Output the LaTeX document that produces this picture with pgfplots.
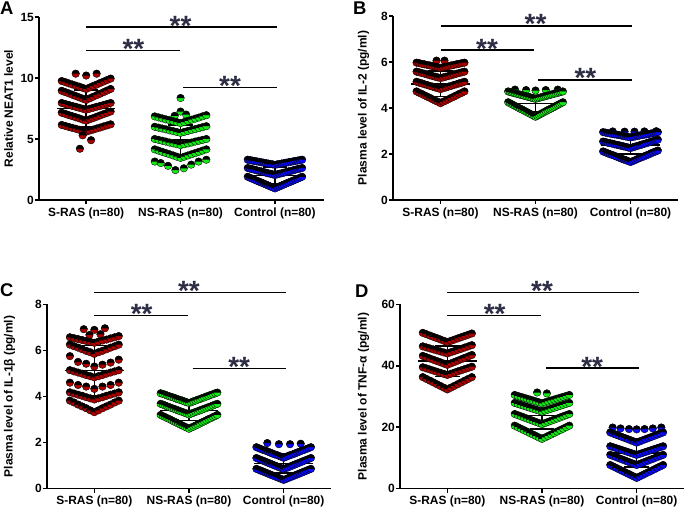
\documentclass[border=0pt]{standalone}
\usepackage{pgfplots}
\pgfplotsset{compat=1.18}
\usepackage{fontspec}
\setmainfont{Liberation Sans}
\usetikzlibrary{plotmarks}

\definecolor{sred}{RGB}{170,0,0}
\definecolor{sgreen}{RGB}{20,235,20}
\definecolor{sblue}{RGB}{10,10,245}
\definecolor{starc}{RGB}{45,45,70}

% circle: lower half in the fill colour, upper half black
\pgfdeclareplotmark{bicircle}{%
  \pgfpathcircle{\pgfpointorigin}{\pgfplotmarksize}%
  \pgfusepathqfill
  \begin{pgfscope}%
    \pgfsetfillcolor{black}%
    \pgfpathmoveto{\pgfqpoint{\pgfplotmarksize}{0pt}}%
    \pgfpatharc{0}{180}{\pgfplotmarksize}%
    \pgfpathclose
    \pgfusepathqfill
  \end{pgfscope}%
  \pgfpathcircle{\pgfpointorigin}{\pgfplotmarksize}%
  \pgfusepathqstroke
}

\newcommand{\lbl}{\fontsize{12}{14}\selectfont\bfseries}
\newcommand{\sig}[4]{% x1, x2, y, xmid
  \draw[line width=1.6bp] (axis cs:#1,#3) -- (axis cs:#2,#3);
  \node[anchor=base, yshift=-8bp, inner sep=0pt, text=starc,
        font=\fontsize{28}{30}\selectfont\bfseries] at (axis cs:#4,#3) {**};}

\pgfplotsset{
  panel/.style={
    scale only axis,
    axis lines=left,
    axis line style={line width=1.5bp,-},
    tick align=outside,
    major tick length=4bp,
    tick style={line width=1.5bp,black},
    xtick={0,1,2},
    xticklabels={S-RAS (n=80),NS-RAS (n=80),Control (n=80)},
    xmin=-0.5, xmax=2.5, ymin=0,
    enlargelimits=false,
    clip=false,
    ticklabel style={font=\lbl},
    yticklabel style={inner xsep=1bp},
    label style={font=\lbl},
    /pgf/number format/assume math mode=true,
  },
  pts/.style={only marks, mark=bicircle, mark size=3.8bp, black,
    mark options={draw=black, line width=0.35bp, fill=#1}},
  sd/.style={black, line width=1.5bp, no marks, unbounded coords=jump},
}

\begin{document}
\begin{tikzpicture}
\useasboundingbox (0,0) rectangle (685bp,509bp);

\node[anchor=north west, inner sep=0pt, font=\fontsize{18.5}{20}\selectfont\bfseries] at (0bp,507bp) {A};
\node[anchor=north west, inner sep=0pt, font=\fontsize{18.5}{20}\selectfont\bfseries] at (353bp,507bp) {B};
\node[anchor=north west, inner sep=0pt, font=\fontsize{18.5}{20}\selectfont\bfseries] at (0bp,226bp) {C};
\node[anchor=north west, inner sep=0pt, font=\fontsize{18.5}{20}\selectfont\bfseries] at (355bp,224bp) {D};

% ---------------- A ----------------
\begin{axis}[panel, at={(39bp,309bp)}, anchor=south west,
  width=285bp, height=183bp, xmax=2.52, ymax=15, ytick={0,5,10,15},
  ylabel={Relative NEAT1 level},
  ylabel style={at={(axis description cs:-0.107,0.5)}, anchor=center}]
\addplot[pts=sred] table[row sep=\\, x expr=\thisrow{k}*0.037, y=y] {
k y\\
-3 10.35\\ 0 10.2\\ 3 10.35\\
-7 9.75\\ -6 9.66\\ -5 9.56\\ -4 9.47\\ -3 9.38\\ -2 9.29\\ -1 9.19\\ 0 9.10\\ 1 9.22\\ 2 9.34\\ 3 9.46\\ 4 9.59\\ 5 9.71\\ 6 9.83\\ 7 9.95\\
-7 8.95\\ -6 8.84\\ -5 8.74\\ -4 8.63\\ -3 8.52\\ -2 8.41\\ -1 8.31\\ 0 8.20\\ 1 8.33\\ 2 8.46\\ 3 8.59\\ 4 8.71\\ 5 8.84\\ 6 8.97\\ 7 9.10\\
-7 7.95\\ -6 7.87\\ -5 7.79\\ -4 7.71\\ -3 7.64\\ -2 7.56\\ -1 7.48\\ 0 7.40\\ 1 7.48\\ 2 7.56\\ 3 7.64\\ 4 7.71\\ 5 7.79\\ 6 7.87\\ 7 7.95\\
-7 7.15\\ -6 7.06\\ -5 6.96\\ -4 6.87\\ -3 6.78\\ -2 6.69\\ -1 6.59\\ 0 6.50\\ 1 6.61\\ 2 6.71\\ 3 6.82\\ 4 6.93\\ 5 7.04\\ 6 7.14\\ 7 7.25\\
-7 6.15\\ -6 6.07\\ -5 5.99\\ -4 5.91\\ -3 5.84\\ -2 5.76\\ -1 5.68\\ 0 5.60\\ 1 5.69\\ 2 5.77\\ 3 5.86\\ 4 5.94\\ 5 6.03\\ 6 6.11\\ 7 6.20\\
-1 5.3\\ 1.4 4.9\\ -1.8 4.2\\
};
\addplot[pts=sgreen] table[row sep=\\, x expr=\thisrow{k}*0.039+1, y=y] {
k y\\
0 8.36\\ -1.6 6.9\\ 0 7.25\\ 1.5 7.0\\
-7 6.85\\ -6 6.77\\ -5 6.69\\ -4 6.61\\ -3 6.54\\ -2 6.46\\ -1 6.38\\ 0 6.30\\ 1 6.39\\ 2 6.49\\ 3 6.58\\ 4 6.67\\ 5 6.76\\ 6 6.86\\ 7 6.95\\
-7 6.00\\ -6 5.93\\ -5 5.86\\ -4 5.79\\ -3 5.71\\ -2 5.64\\ -1 5.57\\ 0 5.50\\ 1 5.58\\ 2 5.66\\ 3 5.74\\ 4 5.81\\ 5 5.89\\ 6 5.97\\ 7 6.05\\
-7 5.00\\ -6 4.93\\ -5 4.86\\ -4 4.79\\ -3 4.71\\ -2 4.64\\ -1 4.57\\ 0 4.50\\ 1 4.57\\ 2 4.64\\ 3 4.71\\ 4 4.79\\ 5 4.86\\ 6 4.93\\ 7 5.00\\
-7 4.15\\ -6 4.05\\ -5 3.95\\ -4 3.85\\ -3 3.75\\ -2 3.65\\ -1 3.55\\ 0 3.45\\ 1 3.55\\ 2 3.65\\ 3 3.75\\ 4 3.85\\ 5 3.95\\ 6 4.05\\ 7 4.15\\
-7 3.15\\ -5.4 3.03\\ -3.4 2.8\\ -1.4 2.45\\ 0.9 2.6\\ 2.9 2.9\\ 4.9 3.15\\ 7 3.3\\
};
\addplot[pts=sblue] table[row sep=\\, x expr=\thisrow{k}*0.024+2, y=y] {
k y\\
-12 3.30\\ -11 3.27\\ -10 3.23\\ -9 3.20\\ -8 3.16\\ -7 3.13\\ -6 3.09\\ -5 3.06\\ -4 3.02\\ -3 2.99\\ -2 2.95\\ -1 2.92\\ 0 2.88\\ 1 2.92\\ 2 2.95\\ 3 2.99\\ 4 3.02\\ 5 3.06\\ 6 3.09\\ 7 3.13\\ 8 3.16\\ 9 3.20\\ 10 3.23\\ 11 3.27\\ 12 3.30\\
-12 2.62\\ -11 2.57\\ -10 2.53\\ -9 2.48\\ -8 2.43\\ -7 2.38\\ -6 2.34\\ -5 2.29\\ -4 2.24\\ -3 2.19\\ -2 2.15\\ -1 2.10\\ 0 2.05\\ 1 2.10\\ 2 2.15\\ 3 2.19\\ 4 2.24\\ 5 2.29\\ 6 2.34\\ 7 2.38\\ 8 2.43\\ 9 2.48\\ 10 2.53\\ 11 2.57\\ 12 2.62\\
-12 1.90\\ -11 1.82\\ -10 1.74\\ -9 1.66\\ -8 1.58\\ -7 1.50\\ -6 1.43\\ -5 1.35\\ -4 1.27\\ -3 1.19\\ -2 1.11\\ -1 1.03\\ 0 0.95\\ 1 1.03\\ 2 1.11\\ 3 1.19\\ 4 1.27\\ 5 1.35\\ 6 1.43\\ 7 1.50\\ 8 1.58\\ 9 1.66\\ 10 1.74\\ 11 1.82\\ 12 1.90\\
};
\addplot[sd] table[row sep=\\] {
x y\\
-0.31 7.5\\ 0.31 7.5\\ nan nan\\ 0 6.0\\ 0 9.0\\ nan nan\\ -0.13 6.0\\ 0.13 6.0\\ nan nan\\ -0.13 9.0\\ 0.13 9.0\\ nan nan\\
0.69 4.9\\ 1.31 4.9\\ nan nan\\ 1 3.65\\ 1 6.15\\ nan nan\\ 0.87 3.65\\ 1.13 3.65\\ nan nan\\ 0.87 6.15\\ 1.13 6.15\\ nan nan\\
1.69 2.0\\ 2.31 2.0\\ nan nan\\ 2 1.3\\ 2 2.7\\ nan nan\\ 1.87 1.3\\ 2.13 1.3\\ nan nan\\ 1.87 2.7\\ 2.13 2.7\\
};
\sig{0}{2.02}{14.18}{1.0}
\sig{0}{0.99}{12.24}{0.5}
\sig{1.03}{2.02}{9.23}{1.525}
\end{axis}

% ---------------- B ----------------
\begin{axis}[panel, at={(393bp,309bp)}, anchor=south west,
  width=285bp, height=184bp, ymax=8, ytick={0,2,4,6,8},
  ylabel={Plasma level of IL-2 (pg/ml)},
  ylabel style={at={(axis description cs:-0.1035,0.5)}, anchor=center}]
\addplot[pts=sred] table[row sep=\\, x expr=\thisrow{k}*0.028, y=y] {
k y\\
-1.5 6.06\\ 1.5 6.06\\
-9 5.97\\ -8 5.95\\ -7 5.92\\ -6 5.90\\ -5 5.87\\ -4 5.85\\ -3 5.82\\ -2 5.80\\ -1 5.77\\ 0 5.75\\ 1 5.77\\ 2 5.80\\ 3 5.82\\ 4 5.85\\ 5 5.87\\ 6 5.90\\ 7 5.92\\ 8 5.95\\ 9 5.97\\
-9 5.58\\ -8 5.55\\ -7 5.52\\ -6 5.49\\ -5 5.46\\ -4 5.42\\ -3 5.39\\ -2 5.36\\ -1 5.33\\ 0 5.30\\ 1 5.33\\ 2 5.36\\ 3 5.39\\ 4 5.42\\ 5 5.46\\ 6 5.49\\ 7 5.52\\ 8 5.55\\ 9 5.58\\
-9 5.14\\ -8 5.10\\ -7 5.07\\ -6 5.03\\ -5 5.00\\ -4 4.96\\ -3 4.93\\ -2 4.89\\ -1 4.86\\ 0 4.82\\ 1 4.86\\ 2 4.89\\ 3 4.93\\ 4 4.96\\ 5 5.00\\ 6 5.03\\ 7 5.07\\ 8 5.10\\ 9 5.14\\
-9 4.72\\ -8 4.66\\ -7 4.61\\ -6 4.55\\ -5 4.49\\ -4 4.44\\ -3 4.38\\ -2 4.32\\ -1 4.27\\ 0 4.21\\ 1 4.27\\ 2 4.32\\ 3 4.38\\ 4 4.44\\ 5 4.49\\ 6 4.55\\ 7 4.61\\ 8 4.66\\ 9 4.72\\
};
\addplot[pts=sgreen] table[row sep=\\, x expr=\thisrow{k}*0.018+1, y=y] {
k y\\
-12 4.8\\ -5.5 4.78\\ 0 4.76\\ 6 4.78\\ 13 4.8\\
-16 4.72\\ -15 4.70\\ -14 4.68\\ -13 4.66\\ -12 4.64\\ -11 4.62\\ -10 4.60\\ -9 4.58\\ -8 4.56\\ -7 4.54\\ -6 4.52\\ -5 4.50\\ -4 4.48\\ -3 4.46\\ -2 4.44\\ -1 4.42\\ 0 4.40\\
1 4.42\\ 2 4.44\\ 3 4.46\\ 4 4.48\\ 5 4.50\\ 6 4.52\\ 7 4.54\\ 8 4.56\\ 9 4.58\\ 10 4.60\\ 11 4.62\\ 12 4.64\\ 13 4.66\\ 14 4.68\\ 15 4.70\\ 16 4.72\\
-16 4.25\\ -15 4.21\\ -14 4.17\\ -13 4.13\\ -12 4.09\\ -11 4.05\\ -10 4.01\\ -9 3.97\\ -8 3.94\\ -7 3.90\\ -6 3.86\\ -5 3.82\\ -4 3.78\\ -3 3.74\\ -2 3.70\\ -1 3.66\\ 0 3.62\\
1 3.66\\ 2 3.70\\ 3 3.74\\ 4 3.78\\ 5 3.82\\ 6 3.86\\ 7 3.90\\ 8 3.94\\ 9 3.97\\ 10 4.01\\ 11 4.05\\ 12 4.09\\ 13 4.13\\ 14 4.17\\ 15 4.21\\ 16 4.25\\
};
\addplot[pts=sblue] table[row sep=\\, x expr=\thisrow{k}*0.024+2, y=y] {
k y\\
-7.8 2.98\\ -2.6 2.97\\ 1.75 2.97\\ 6.1 2.98\\ 11.3 2.99\\
-12 2.95\\ -11 2.93\\ -10 2.91\\ -9 2.89\\ -8 2.87\\ -7 2.85\\ -6 2.84\\ -5 2.82\\ -4 2.80\\ -3 2.78\\ -2 2.76\\ -1 2.74\\ 0 2.72\\ 1 2.74\\ 2 2.76\\ 3 2.78\\ 4 2.80\\ 5 2.82\\ 6 2.84\\ 7 2.85\\ 8 2.87\\ 9 2.89\\ 10 2.91\\ 11 2.93\\ 12 2.95\\
-12 2.54\\ -11 2.52\\ -10 2.49\\ -9 2.47\\ -8 2.45\\ -7 2.42\\ -6 2.40\\ -5 2.38\\ -4 2.35\\ -3 2.33\\ -2 2.31\\ -1 2.28\\ 0 2.26\\ 1 2.29\\ 2 2.32\\ 3 2.35\\ 4 2.38\\ 5 2.41\\ 6 2.44\\ 7 2.47\\ 8 2.50\\ 9 2.53\\ 10 2.56\\ 11 2.59\\ 12 2.62\\
-12 2.11\\ -11 2.07\\ -10 2.03\\ -9 1.99\\ -8 1.96\\ -7 1.92\\ -6 1.88\\ -5 1.84\\ -4 1.80\\ -3 1.76\\ -2 1.73\\ -1 1.69\\ 0 1.65\\ 1 1.69\\ 2 1.73\\ 3 1.78\\ 4 1.82\\ 5 1.86\\ 6 1.90\\ 7 1.94\\ 8 1.98\\ 9 2.03\\ 10 2.07\\ 11 2.11\\ 12 2.15\\
};
\addplot[sd] table[row sep=\\] {
x y\\
-0.31 5.05\\ 0.31 5.05\\ nan nan\\ 0 4.5\\ 0 5.6\\ nan nan\\ -0.13 4.5\\ 0.13 4.5\\ nan nan\\ -0.13 5.6\\ 0.13 5.6\\ nan nan\\
0.69 4.2\\ 1.31 4.2\\ nan nan\\ 1 3.85\\ 1 4.55\\ nan nan\\ 0.87 3.85\\ 1.13 3.85\\ nan nan\\ 0.87 4.55\\ 1.13 4.55\\ nan nan\\
1.69 2.4\\ 2.31 2.4\\ nan nan\\ 2 2.0\\ 2 2.8\\ nan nan\\ 1.87 2.0\\ 2.13 2.0\\ nan nan\\ 1.87 2.8\\ 2.13 2.8\\
};
\sig{0}{2.02}{7.57}{1.0}
\sig{0}{0.98}{6.52}{0.49}
\sig{1.03}{2.02}{5.22}{1.525}
\end{axis}

% ---------------- C ----------------
\begin{axis}[panel, at={(47bp,20.3bp)}, anchor=south west,
  width=284bp, height=184.4bp, ymax=8, ytick={0,2,4,6,8},
  ylabel={Plasma level of IL-1β (pg/ml)},
  ylabel style={at={(axis description cs:-0.132,0.5)}, anchor=center}]
\addplot[pts=sred] table[row sep=\\, x expr=\thisrow{k}*0.043, y=y] {
k y\\
-2.6 6.92\\ 0 6.89\\ 2.6 6.96\\ -1.2 6.67\\ 1.5 6.7\\
-6 6.57\\ -5 6.53\\ -4 6.49\\ -3 6.45\\ -2 6.41\\ -1 6.37\\ 0 6.33\\ 1 6.38\\ 2 6.43\\ 3 6.47\\ 4 6.52\\ 5 6.57\\ 6 6.62\\
-6 6.25\\ -5 6.18\\ -4 6.12\\ -3 6.05\\ -2 5.98\\ -1 5.92\\ 0 5.85\\ 1 5.92\\ 2 5.98\\ 3 6.05\\ 4 6.12\\ 5 6.18\\ 6 6.25\\
-6 5.75\\ -4 5.5\\ -2 5.42\\ 0 5.3\\ 2 5.38\\ 4 5.47\\ 6 5.6\\
-6 5.14\\ -5 5.09\\ -4 5.04\\ -3 4.99\\ -2 4.93\\ -1 4.88\\ 0 4.83\\ 1 4.88\\ 2 4.93\\ 3 4.99\\ 4 5.04\\ 5 5.09\\ 6 5.14\\
-6 4.6\\ -4 4.5\\ -2 4.43\\ 0 4.33\\ 2 4.43\\ 4 4.5\\ 6 4.6\\
-6 4.18\\ -5 4.13\\ -4 4.08\\ -3 4.03\\ -2 3.97\\ -1 3.92\\ 0 3.87\\ 1 3.92\\ 2 3.97\\ 3 4.03\\ 4 4.08\\ 5 4.13\\ 6 4.18\\
-6 3.82\\ -5 3.74\\ -4 3.65\\ -3 3.57\\ -2 3.49\\ -1 3.40\\ 0 3.32\\ 1 3.40\\ 2 3.49\\ 3 3.57\\ 4 3.65\\ 5 3.74\\ 6 3.82\\
};
\addplot[pts=sgreen] table[row sep=\\, x expr=\thisrow{k}*0.023+1, y=y] {
k y\\
-13 4.14\\ -12 4.11\\ -11 4.08\\ -10 4.04\\ -9 4.01\\ -8 3.98\\ -7 3.95\\ -6 3.91\\ -5 3.88\\ -4 3.85\\ -3 3.82\\ -2 3.78\\ -1 3.75\\ 0 3.72\\
1 3.75\\ 2 3.79\\ 3 3.82\\ 4 3.86\\ 5 3.89\\ 6 3.93\\ 7 3.96\\ 8 4.00\\ 9 4.03\\ 10 4.07\\ 11 4.10\\ 12 4.14\\ 13 4.17\\
-13 3.68\\ -12 3.65\\ -11 3.61\\ -10 3.57\\ -9 3.54\\ -8 3.50\\ -7 3.47\\ -6 3.43\\ -5 3.40\\ -4 3.36\\ -3 3.33\\ -2 3.29\\ -1 3.26\\ 0 3.22\\
1 3.26\\ 2 3.29\\ 3 3.33\\ 4 3.36\\ 5 3.40\\ 6 3.43\\ 7 3.47\\ 8 3.50\\ 9 3.54\\ 10 3.57\\ 11 3.61\\ 12 3.65\\ 13 3.68\\
-13 3.20\\ -12 3.15\\ -11 3.11\\ -10 3.06\\ -9 3.02\\ -8 2.97\\ -7 2.92\\ -6 2.88\\ -5 2.83\\ -4 2.78\\ -3 2.74\\ -2 2.69\\ -1 2.65\\ 0 2.60\\
1 2.65\\ 2 2.69\\ 3 2.74\\ 4 2.78\\ 5 2.83\\ 6 2.88\\ 7 2.92\\ 8 2.97\\ 9 3.02\\ 10 3.06\\ 11 3.11\\ 12 3.15\\ 13 3.20\\
};
\addplot[pts=sblue] table[row sep=\\, x expr=\thisrow{k}*0.024+2, y=y] {
k y\\
-7.2 1.98\\ -2.1 1.93\\ 2.8 1.93\\ 7.5 1.95\\
-12 1.80\\ -11 1.76\\ -10 1.72\\ -9 1.68\\ -8 1.65\\ -7 1.61\\ -6 1.57\\ -5 1.53\\ -4 1.49\\ -3 1.46\\ -2 1.42\\ -1 1.38\\ 0 1.34\\ 1 1.38\\ 2 1.42\\ 3 1.46\\ 4 1.49\\ 5 1.53\\ 6 1.57\\ 7 1.61\\ 8 1.65\\ 9 1.68\\ 10 1.72\\ 11 1.76\\ 12 1.80\\
-12 1.33\\ -11 1.29\\ -10 1.25\\ -9 1.21\\ -8 1.17\\ -7 1.13\\ -6 1.09\\ -5 1.05\\ -4 1.01\\ -3 0.97\\ -2 0.93\\ -1 0.89\\ 0 0.85\\ 1 0.89\\ 2 0.93\\ 3 0.97\\ 4 1.01\\ 5 1.05\\ 6 1.09\\ 7 1.13\\ 8 1.17\\ 9 1.21\\ 10 1.25\\ 11 1.29\\ 12 1.33\\
-12 0.86\\ -11 0.82\\ -10 0.78\\ -9 0.74\\ -8 0.70\\ -7 0.66\\ -6 0.62\\ -5 0.58\\ -4 0.54\\ -3 0.50\\ -2 0.46\\ -1 0.42\\ 0 0.38\\ 1 0.42\\ 2 0.46\\ 3 0.50\\ 4 0.54\\ 5 0.58\\ 6 0.62\\ 7 0.66\\ 8 0.70\\ 9 0.74\\ 10 0.78\\ 11 0.82\\ 12 0.86\\
};
\addplot[sd] table[row sep=\\] {
x y\\
-0.31 5.12\\ 0.31 5.12\\ nan nan\\ 0 4.02\\ 0 6.22\\ nan nan\\ -0.13 4.02\\ 0.13 4.02\\ nan nan\\ -0.13 6.22\\ 0.13 6.22\\ nan nan\\
0.69 3.4\\ 1.31 3.4\\ nan nan\\ 1 2.95\\ 1 3.85\\ nan nan\\ 0.87 2.95\\ 1.13 2.95\\ nan nan\\ 0.87 3.85\\ 1.13 3.85\\ nan nan\\
1.69 1.1\\ 2.31 1.1\\ nan nan\\ 2 0.68\\ 2 1.52\\ nan nan\\ 1.87 0.68\\ 2.13 0.68\\ nan nan\\ 1.87 1.52\\ 2.13 1.52\\
};
\sig{0}{2.02}{8.52}{1.0}
\sig{0}{0.99}{7.51}{0.5}
\sig{1.04}{2.02}{5.22}{1.53}
\end{axis}

% ---------------- D ----------------
\begin{axis}[panel, at={(400bp,20.3bp)}, anchor=south west,
  width=284bp, height=184.4bp, ymax=60, ytick={0,20,40,60},
  ylabel={Plasma level of TNF-α (pg/ml)},
  ylabel style={at={(axis description cs:-0.1285,0.5)}, anchor=center}]
\addplot[pts=sred] table[row sep=\\, x expr=\thisrow{k}*0.037, y=y] {
k y\\
-7 50.7\\ -6 50.27\\ -5 49.84\\ -4 49.41\\ -3 48.99\\ -2 48.56\\ -1 48.13\\ 0 47.7\\ 1 48.1\\ 2 48.5\\ 3 48.9\\ 4 49.3\\ 5 49.7\\ 6 50.1\\ 7 50.5\\
-7 46.3\\ -6 45.97\\ -5 45.64\\ -4 45.31\\ -3 44.99\\ -2 44.66\\ -1 44.33\\ 0 44.0\\ 1 44.39\\ 2 44.77\\ 3 45.16\\ 4 45.54\\ 5 45.93\\ 6 46.31\\ 7 46.7\\
-7 43.2\\ -6 42.79\\ -5 42.37\\ -4 41.96\\ -3 41.54\\ -2 41.13\\ -1 40.71\\ 0 40.3\\ 1 40.76\\ 2 41.21\\ 3 41.67\\ 4 42.13\\ 5 42.59\\ 6 43.04\\ 7 43.5\\
-7 39.5\\ -6 39.14\\ -5 38.79\\ -4 38.43\\ -3 38.07\\ -2 37.71\\ -1 37.36\\ 0 37.0\\ 1 37.39\\ 2 37.77\\ 3 38.16\\ 4 38.54\\ 5 38.93\\ 6 39.31\\ 7 39.7\\
-7 36.3\\ -6 35.73\\ -5 35.16\\ -4 34.59\\ -3 34.01\\ -2 33.44\\ -1 32.87\\ 0 32.3\\ 1 32.87\\ 2 33.44\\ 3 34.01\\ 4 34.59\\ 5 35.16\\ 6 35.73\\ 7 36.3\\
};
\addplot[pts=sgreen] table[row sep=\\, x expr=\thisrow{k}*0.032+1, y=y] {
k y\\
-1.6 31.3\\ 1.6 31.0\\
-9 30.5\\ -8 30.2\\ -7 29.9\\ -6 29.6\\ -5 29.3\\ -4 29.0\\ -3 28.7\\ -2 28.4\\ -1 28.1\\ 0 27.8\\ 1 28.1\\ 2 28.4\\ 3 28.7\\ 4 29.0\\ 5 29.3\\ 6 29.6\\ 7 29.9\\ 8 30.2\\ 9 30.5\\
-9 27.9\\ -8 27.59\\ -7 27.28\\ -6 26.97\\ -5 26.66\\ -4 26.34\\ -3 26.03\\ -2 25.72\\ -1 25.41\\ 0 25.1\\ 1 25.41\\ 2 25.72\\ 3 26.03\\ 4 26.34\\ 5 26.66\\ 6 26.97\\ 7 27.28\\ 8 27.59\\ 9 27.9\\
-9 24.3\\ -8 23.93\\ -7 23.57\\ -6 23.2\\ -5 22.83\\ -4 22.47\\ -3 22.1\\ -2 21.73\\ -1 21.37\\ 0 21.0\\ 1 21.37\\ 2 21.73\\ 3 22.1\\ 4 22.47\\ 5 22.83\\ 6 23.2\\ 7 23.57\\ 8 23.93\\ 9 24.3\\
-9 20.5\\ -8 20.02\\ -7 19.54\\ -6 19.07\\ -5 18.59\\ -4 18.11\\ -3 17.63\\ -2 17.16\\ -1 16.68\\ 0 16.2\\ 1 16.68\\ 2 17.16\\ 3 17.63\\ 4 18.11\\ 5 18.59\\ 6 19.07\\ 7 19.54\\ 8 20.02\\ 9 20.5\\
};
\addplot[pts=sblue] table[row sep=\\, x expr=\thisrow{k}*0.031+2, y=y] {
k y\\
-8.2 19.9\\ -5.5 19.6\\ -2.6 19.4\\ 0 19.3\\ 2.7 19.4\\ 5.5 19.6\\ 8.4 19.9\\
-9 18.3\\ -8 17.93\\ -7 17.57\\ -6 17.2\\ -5 16.83\\ -4 16.47\\ -3 16.1\\ -2 15.73\\ -1 15.37\\ 0 15.0\\ 1 15.37\\ 2 15.73\\ 3 16.1\\ 4 16.47\\ 5 16.83\\ 6 17.2\\ 7 17.57\\ 8 17.93\\ 9 18.3\\
-9 13.8\\ -8 13.49\\ -7 13.18\\ -6 12.87\\ -5 12.56\\ -4 12.24\\ -3 11.93\\ -2 11.62\\ -1 11.31\\ 0 11.0\\ 1 11.31\\ 2 11.62\\ 3 11.93\\ 4 12.24\\ 5 12.56\\ 6 12.87\\ 7 13.18\\ 8 13.49\\ 9 13.8\\
-9 11.0\\ -8 10.63\\ -7 10.27\\ -6 9.9\\ -5 9.53\\ -4 9.17\\ -3 8.8\\ -2 8.43\\ -1 8.07\\ 0 7.7\\ 1 8.07\\ 2 8.43\\ 3 8.8\\ 4 9.17\\ 5 9.53\\ 6 9.9\\ 7 10.27\\ 8 10.63\\ 9 11.0\\
-9 7.7\\ -8 7.23\\ -7 6.77\\ -6 6.3\\ -5 5.83\\ -4 5.37\\ -3 4.9\\ -2 4.43\\ -1 3.97\\ 0 3.5\\ 1 3.97\\ 2 4.43\\ 3 4.9\\ 4 5.37\\ 5 5.83\\ 6 6.3\\ 7 6.77\\ 8 7.23\\ 9 7.7\\
};
\addplot[sd] table[row sep=\\] {
x y\\
-0.31 41.5\\ 0.31 41.5\\ nan nan\\ 0 36.5\\ 0 46.5\\ nan nan\\ -0.13 36.5\\ 0.13 36.5\\ nan nan\\ -0.13 46.5\\ 0.13 46.5\\ nan nan\\
0.69 23.8\\ 1.31 23.8\\ nan nan\\ 1 19.5\\ 1 28.1\\ nan nan\\ 0.87 19.5\\ 1.13 19.5\\ nan nan\\ 0.87 28.1\\ 1.13 28.1\\ nan nan\\
1.69 11.6\\ 2.31 11.6\\ nan nan\\ 2 7.0\\ 2 16.2\\ nan nan\\ 1.87 7.0\\ 2.13 7.0\\ nan nan\\ 1.87 16.2\\ 2.13 16.2\\
};
\sig{0}{2.02}{63.9}{1.0}
\sig{0}{0.99}{56.3}{0.5}
\sig{1.04}{2.02}{39.2}{1.53}
\end{axis}
\end{tikzpicture}
\end{document}
